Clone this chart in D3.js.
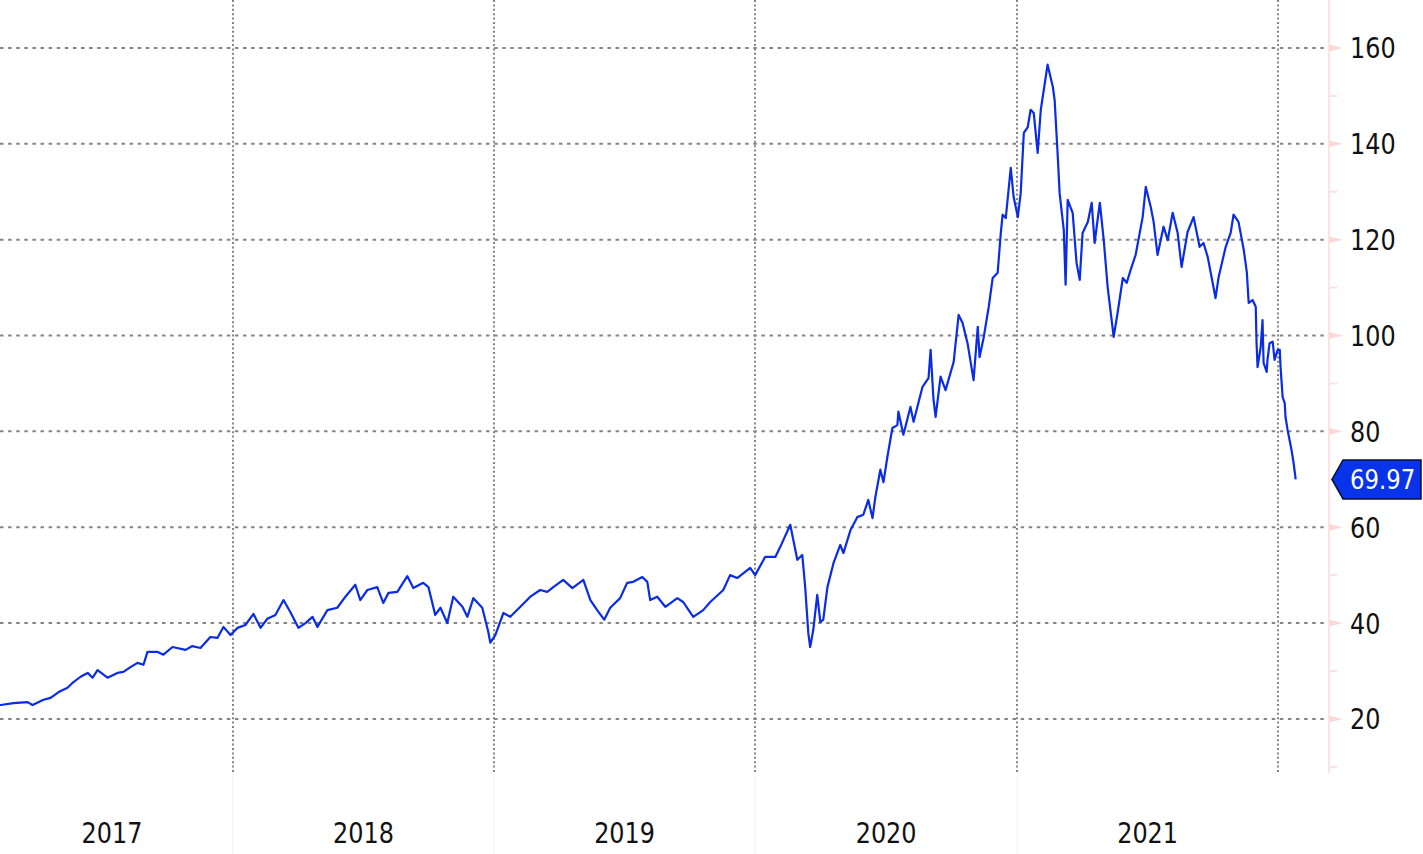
<!DOCTYPE html>
<html>
<head>
<meta charset="utf-8">
<script src="https://cdn.jsdelivr.net/npm/d3@7"></script>
<style>
html,body{margin:0;padding:0;background:#fff;overflow:hidden}
svg{display:block}
</style>
</head>
<body>
<svg id="chart" width="1423" height="854"></svg>
<script>
// ---- data (decimal years / prices) ----
const dates = [
2017.077,2017.111,2017.160,2017.214,2017.233,2017.275,2017.302,2017.333,2017.367,2017.386,
2017.417,2017.444,2017.463,2017.482,2017.520,2017.558,2017.581,2017.608,2017.635,2017.658,
2017.673,2017.711,2017.734,2017.769,2017.819,2017.845,2017.876,2017.914,2017.941,2017.964,
2017.991,2018.018,2018.048,2018.079,2018.106,2018.132,2018.163,2018.194,2018.220,2018.251,
2018.278,2018.305,2018.324,2018.362,2018.400,2018.431,2018.469,2018.488,2018.515,2018.553,
2018.576,2018.596,2018.630,2018.668,2018.691,2018.729,2018.749,2018.775,2018.795,2018.821,
2018.844,2018.879,2018.898,2018.921,2018.955,2018.978,2018.986,2019.005,2019.036,2019.062,
2019.101,2019.139,2019.177,2019.204,2019.227,2019.265,2019.300,2019.342,2019.369,2019.395,
2019.422,2019.445,2019.483,2019.510,2019.533,2019.568,2019.587,2019.598,2019.625,2019.656,
2019.702,2019.724,2019.763,2019.801,2019.828,2019.878,2019.904,2019.931,2019.981,2020.000,
2020.038,2020.077,2020.096,2020.134,2020.161,2020.180,2020.191,2020.203,2020.210,2020.222,
2020.237,2020.249,2020.260,2020.276,2020.299,2020.325,2020.337,2020.364,2020.390,2020.413,
2020.432,2020.448,2020.459,2020.478,2020.490,2020.505,2020.524,2020.543,2020.547,2020.566,
2020.593,2020.605,2020.639,2020.662,2020.670,2020.681,2020.689,2020.708,2020.727,2020.758,
2020.777,2020.792,2020.811,2020.834,2020.850,2020.857,2020.873,2020.892,2020.907,2020.926,
2020.938,2020.945,2020.957,2020.976,2020.987,2021.003,2021.014,2021.026,2021.041,2021.052,
2021.064,2021.079,2021.091,2021.117,2021.137,2021.144,2021.156,2021.163,2021.179,2021.186,
2021.194,2021.213,2021.228,2021.240,2021.251,2021.271,2021.286,2021.297,2021.317,2021.332,
2021.347,2021.370,2021.385,2021.405,2021.420,2021.435,2021.454,2021.481,2021.493,2021.512,
2021.523,2021.538,2021.561,2021.577,2021.596,2021.615,2021.630,2021.653,2021.676,2021.699,
2021.714,2021.730,2021.749,2021.760,2021.772,2021.799,2021.818,2021.829,2021.848,2021.868,
2021.880,2021.887,2021.902,2021.914,2021.917,2021.921,2021.933,2021.940,2021.944,2021.956,
2021.959,2021.967,2021.979,2021.986,2021.998,2022.006,2022.009,2022.017,2022.025,2022.028,
2022.036,2022.051,2022.059,2022.067
];
const prices = [
23.0,22.9,23.3,23.5,22.9,24.0,24.4,25.6,26.5,27.5,
28.8,29.6,28.6,30.2,28.6,29.6,29.8,30.8,31.7,31.3,
34.0,34.0,33.4,35.0,34.4,35.2,34.8,37.1,36.9,39.2,
37.5,39.0,39.6,41.9,39.0,40.9,41.7,44.8,42.3,39.0,
40.0,41.3,39.2,42.7,43.2,45.5,48.0,44.8,46.9,47.5,
44.2,46.3,46.5,49.8,47.3,48.4,47.5,41.7,43.2,40.0,
45.5,43.4,41.3,45.2,43.2,38.2,35.9,37.5,42.1,41.3,
43.4,45.5,46.9,46.5,47.5,49.0,47.3,49.0,44.8,42.7,
40.7,43.2,45.2,48.4,48.6,49.6,48.6,44.8,45.5,43.4,
45.2,44.4,41.3,42.7,44.4,46.9,50.0,49.4,51.5,50.0,
53.8,53.8,55.9,60.5,53.2,54.2,47.5,37.9,35.0,38.6,
45.9,40.2,40.7,47.5,52.5,56.3,54.6,59.4,62.1,62.6,
65.7,61.9,66.3,72.0,69.4,74.7,80.7,81.3,84.1,79.3,
85.1,82.0,89.3,91.1,97.0,86.6,83.0,91.4,88.6,94.5,
104.3,102.6,98.4,90.7,101.8,95.5,99.7,106.0,112.0,113.1,
121.4,125.2,124.5,135.0,128.9,124.7,129.7,142.3,143.5,147.1,
146.4,138.1,147.1,156.5,151.9,149.1,137.3,129.7,122.0,110.6,
128.3,125.6,115.1,111.6,121.4,123.7,127.7,119.3,127.7,119.9,
110.1,99.7,104.7,112.0,111.0,113.7,116.8,124.7,131.0,126.8,
123.7,116.8,122.7,119.9,125.6,121.4,114.3,121.6,124.7,118.5,
119.3,116.4,111.0,107.8,112.2,118.5,121.4,125.2,123.7,117.9,
113.1,106.8,107.4,106.0,98.7,93.4,97.6,103.2,94.3,92.4,
94.9,98.4,98.7,94.9,97.0,97.0,93.4,87.2,85.9,83.0,
80.3,76.1,73.4,69.97
];
const yTicks = [20,40,60,80,100,120,140,160];
const yMinorTicks = [10,30,50,70,90,110,130,150];
const yearLabels = ["2017","2018","2019","2020","2021"];
const yearBoundaries = [2018,2019,2020,2021,2022];
const lastLabel = "69.97";

// ---- layout ----
const plot = {left:-9, right:1329, top:0, bottom:775};
const svg = d3.select("#chart");

function toDate(d){
  const yr = Math.floor(d);
  const s = Date.UTC(yr,0,1), e = Date.UTC(yr+1,0,1);
  return new Date(s + (d-yr)*(e-s));
}
const data = dates.map((d,i)=>({date:toDate(d), v:prices[i]}));

const x = d3.scaleUtc()
  .domain([new Date(Date.UTC(2017,0,28)), new Date(Date.UTC(2022,2,13))])
  .range([plot.left, plot.right]);
const y = d3.scaleLinear().domain([8.3,170]).range([plot.bottom, plot.top]);

const FONT = "'DejaVu Sans', Verdana, sans-serif";
const SX = 0.84;

// faint separators in the date band
svg.append("g").selectAll("line").data(yearBoundaries.slice(0,4)).join("line")
  .attr("x1", d=>x(toDate(d))).attr("x2", d=>x(toDate(d)))
  .attr("y1", plot.bottom).attr("y2", 854)
  .attr("stroke", "#f2f2f2").attr("stroke-width", 1);

// horizontal grid
svg.append("g").selectAll("line").data(yTicks).join("line")
  .attr("x1", 0).attr("x2", plot.right)
  .attr("y1", d=>y(d)).attr("y2", d=>y(d))
  .attr("stroke", "#858585").attr("stroke-width", 2)
  .attr("stroke-dasharray", "3.5,4.6");

// vertical grid (year boundaries)
svg.append("g").selectAll("line").data(yearBoundaries).join("line")
  .attr("x1", d=>Math.round(x(toDate(d)))).attr("x2", d=>Math.round(x(toDate(d))))
  .attr("y1", plot.top).attr("y2", plot.bottom - 2)
  .attr("stroke", "#858585").attr("stroke-width", 2)
  .attr("stroke-dasharray", "2,2.4");

// right axis
const ax = svg.append("g");
ax.append("line").attr("x1", plot.right).attr("x2", plot.right)
  .attr("y1", 0).attr("y2", plot.bottom - 2)
  .attr("stroke", "#fde4e4").attr("stroke-width", 2);
ax.selectAll("path.maj").data(yTicks).join("path").attr("class","maj")
  .attr("d", d=>`M${plot.right},${y(d)-3.5}L${plot.right+14},${y(d)}L${plot.right},${y(d)+3.5}Z`)
  .attr("fill", "#fcd9d9");
ax.selectAll("line.min").data(yMinorTicks).join("line").attr("class","min")
  .attr("x1", plot.right).attr("x2", plot.right+8)
  .attr("y1", d=>y(d)).attr("y2", d=>y(d))
  .attr("stroke", "#fde0e0").attr("stroke-width", 2);
ax.selectAll("text").data(yTicks).join("text")
  .attr("transform", d=>`translate(1350,${y(d)+10.5}) scale(${SX},1)`)
  .attr("font-family", FONT).attr("font-size", 28.5)
  .attr("fill", "#111")
  .text(d=>d);

// year labels centred in the visible part of each year
svg.append("g").selectAll("text").data(yearLabels).join("text")
  .attr("transform", d=>{
    const a = Math.max(x(toDate(+d)), plot.left);
    const b = Math.min(x(toDate(+d+1)), plot.right);
    return `translate(${(a+b)/2},843) scale(${SX},1)`;
  })
  .attr("text-anchor", "middle")
  .attr("font-family", FONT).attr("font-size", 28.5)
  .attr("fill", "#111")
  .text(d=>d);

// price line
svg.append("path").datum(data)
  .attr("fill", "none")
  .attr("stroke", "#0a2ce6").attr("stroke-width", 2.2)
  .attr("stroke-linejoin", "round")
  .attr("d", d3.line().x(d=>x(d.date)).y(d=>y(d.v)));

// last value tag
const last = data[data.length-1];
const ly = y(last.v);
const tag = svg.append("g");
tag.append("path")
  .attr("d", `M${plot.right+3},${ly}L${plot.right+14},${ly-19.5}L1421,${ly-19.5}L1421,${ly+19.5}L${plot.right+14},${ly+19.5}Z`)
  .attr("fill", "#0833e8").attr("stroke", "#0b1030").attr("stroke-width", 1.5);
tag.append("text")
  .attr("transform", `translate(1350,${ly+9.5}) scale(0.86,1)`)
  .attr("font-family", FONT).attr("font-size", 26.5)
  .attr("fill", "#fff")
  .text(lastLabel);
</script>
</body>
</html>
